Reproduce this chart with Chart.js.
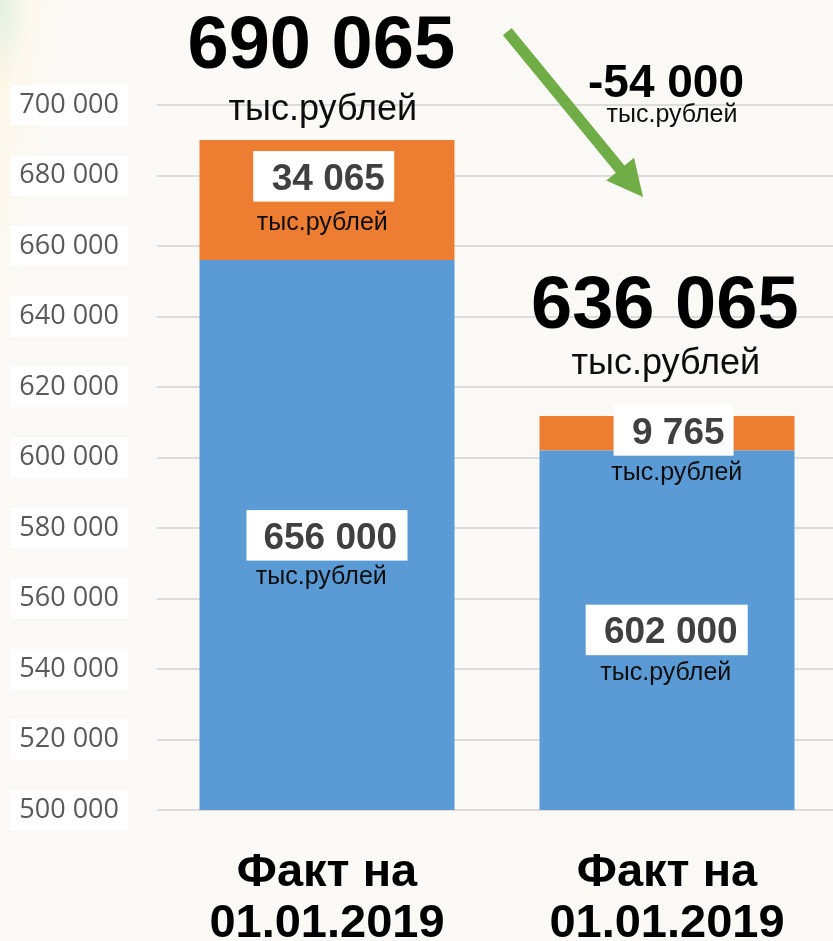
<!DOCTYPE html>
<html>
<head>
<meta charset="utf-8">
<script src="https://cdn.jsdelivr.net/npm/chart.js@4/dist/chart.umd.min.js"></script>
<style>
  html, body { margin: 0; padding: 0; overflow: hidden; }
  body {
    width: 833px; height: 941px;
    background:
      radial-gradient(ellipse 30px 70px at 0px 10px, rgba(200,238,240,0.45), rgba(255,255,255,0) 100%),
      linear-gradient(100deg, rgba(255,238,185,0.5) 0px, rgba(255,245,215,0.3) 25px, rgba(255,255,255,0) 70px),
      #fbf9f6;
  }
  #wrap { width: 833px; height: 941px; overflow: hidden; }
  canvas { display: block; }
</style>
</head>
<body>
<div id="wrap"><canvas id="c" width="837" height="941"></canvas></div>
<script>
// ---- data ----
const categories = [['Факт на', '01.01.2019'], ['Факт на', '01.01.2019']];
const baseValues = [656000, 602000];
const addValues = [34065, 9765];
const baseLabels = ['656 000', '602 000'];
const addLabels = ['34 065', '9 765'];
const totalLabels = ['690 065', '636 065'];
const changeLabel = '-54 000';
const unitLabel = 'тыс.рублей';
const yMin = 500000;
const yMax = 700000;
const yStep = 20000;

function fmt(v) {
  return String(v).replace(/\B(?=(\d{3})+(?!\d))/g, ' ');
}

const SANS = '"Liberation Sans", Arial, sans-serif';

const annotate = {
  id: 'annotate',
  afterDatasetsDraw(chart) {
    const ctx = chart.ctx;
    const area = chart.chartArea;
    const blue = chart.getDatasetMeta(0).data;
    const orange = chart.getDatasetMeta(1).data;

    function text(str, x, y, font, color) {
      ctx.font = font;
      ctx.fillStyle = color;
      ctx.textAlign = 'center';
      ctx.textBaseline = 'alphabetic';
      ctx.fillText(str, x, y);
    }
    function box(cx, cy, w, h) {
      ctx.fillStyle = '#ffffff';
      ctx.fillRect(cx - w / 2, cy - h / 2, w, h);
    }

    ctx.save();
    // segment value labels: [element, label, boxDx, boxDy, boxW, textDx, textDy, unitDx, unitDy]
    const specs = [
      [blue[0], baseLabels[0], 0, 0.3, 161, 3.3, 13.7, -5.7, 48.5],
      [orange[0], addLabels[0], -3.3, -23.7, 141, 1.3, 13.7, -4.7, 53.5],
      [blue[1], baseLabels[1], -0.3, -0.3, 162, 3.8, 13.4, -1.2, 50],
      [orange[1], addLabels[1], 6.6, -2.8, 120, 11.3, 13.9, 9.8, 49.5]
    ];
    specs.forEach(s => {
      const el = s[0];
      const top = Math.max(el.y, area.top);
      const bottom = Math.min(el.base, area.bottom);
      const mid = (top + bottom) / 2;
      const bx = el.x + s[2], by = mid + s[3];
      box(bx, by, s[4], 50.5);
      text(s[1], el.x + s[5], by + s[6], 'bold 37px ' + SANS, '#404040');
      text(unitLabel, el.x + s[7], by + s[8], '25px ' + SANS, '#0d0d0d');
    });

    // totals above bars
    const totSpecs = [
      [orange[0], -5.7, -72, -4.2, -20],
      [orange[1], -2.2, -88.5, -1.2, -42]
    ];
    totSpecs.forEach((s, i) => {
      const el = s[0];
      text(totalLabels[i], el.x + s[1], el.y + s[2], 'bold 74px ' + SANS, '#000000');
      text(unitLabel, el.x + s[3], el.y + s[4], '36px ' + SANS, '#0d0d0d');
    });

    // change label
    const cx = orange[1].x;
    text(changeLabel, cx - 1, 97, 'bold 46px ' + SANS, '#000000');
    text(unitLabel, cx + 5, 121.5, '25px ' + SANS, '#0d0d0d');

    // green arrow
    const S = { x: 507.3, y: 31.6 }, T = { x: 643, y: 197 };
    const dx = T.x - S.x, dy = T.y - S.y, L = Math.hypot(dx, dy);
    const ux = dx / L, uy = dy / L, px = -uy, py = ux;
    const headL = 36, headW = 18, shaftW = 5.6;
    const B = { x: T.x - ux * headL, y: T.y - uy * headL };
    ctx.beginPath();
    ctx.moveTo(S.x + px * shaftW, S.y + py * shaftW);
    ctx.lineTo(B.x + px * shaftW, B.y + py * shaftW);
    ctx.lineTo(B.x + px * headW, B.y + py * headW);
    ctx.lineTo(T.x, T.y);
    ctx.lineTo(B.x - px * headW, B.y - py * headW);
    ctx.lineTo(B.x - px * shaftW, B.y - py * shaftW);
    ctx.lineTo(S.x - px * shaftW, S.y - py * shaftW);
    ctx.closePath();
    ctx.fillStyle = '#70ad47';
    ctx.fill();
    ctx.restore();
  }
};

new Chart(document.getElementById('c'), {
  type: 'bar',
  data: {
    labels: categories,
    datasets: [
      { data: baseValues, backgroundColor: '#5b9bd5', borderWidth: 0 },
      { data: addValues, backgroundColor: '#ed7d31', borderWidth: 0 }
    ]
  },
  options: {
    responsive: false,
    animation: false,
    events: [],
    barPercentage: 0.75,
    categoryPercentage: 1,
    layout: { padding: { top: 105, left: 0, right: 0, bottom: 0 } },
    plugins: { legend: { display: false }, tooltip: { enabled: false } },
    scales: {
      x: {
        stacked: true,
        grid: { display: false, drawTicks: false },
        border: { display: false },
        ticks: {
          color: '#000000',
          font: { family: SANS, size: 47, weight: 'bold', lineHeight: 1.09 },
          padding: 37.5,
          maxRotation: 0,
          autoSkip: false
        },
        afterFit(s) { s.height = 131; }
      },
      y: {
        stacked: true,
        min: yMin,
        max: yMax,
        grid: { color: '#dcdcdc', lineWidth: 2, drawTicks: false },
        border: { display: false },
        ticks: {
          stepSize: yStep,
          color: '#595959',
          font: { family: '"Open Sans", sans-serif', size: 27 },
          padding: 38,
          showLabelBackdrop: true,
          backdropColor: '#ffffff',
          backdropPadding: { left: 9, right: 9, top: 4, bottom: 4 },
          callback: v => fmt(v)
        },
        afterFit(s) { s.width = 157; }
      }
    }
  },
  plugins: [annotate]
});
</script>
</body>
</html>
